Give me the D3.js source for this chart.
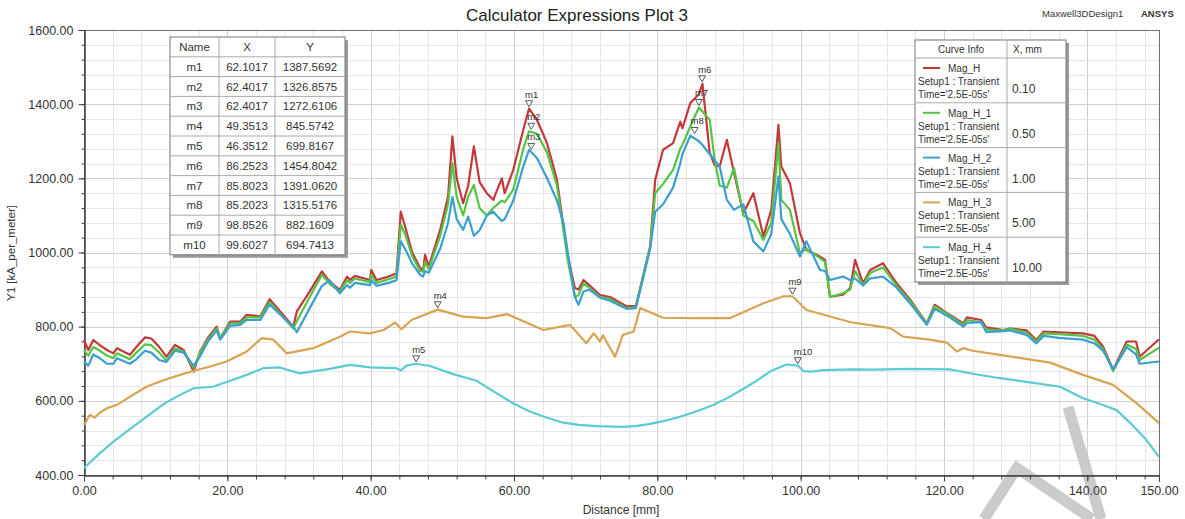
<!DOCTYPE html>
<html><head><meta charset="utf-8">
<script src="https://cdn.jsdelivr.net/npm/d3@7"></script>
<style>
body{margin:0;background:#fff;}
svg{display:block;font-family:"Liberation Sans",Arial,sans-serif;}
</style>
</head><body>
<svg id="chart" width="1185" height="519"></svg>
<script>
// ---------- data ----------
const xRGB = [0,0.6,1.3,2.2,3.2,4.1,4.6,6.4,7.3,8.5,9.4,10.5,11.5,12.7,13.9,15.3,16.2,17.3,18.5,19.0,20.4,21.8,22.7,24.6,25.9,27.5,29.2,29.7,31.5,33.2,34.3,35.7,36.7,37.1,37.8,39.9,40.1,40.8,42.5,43.6,44.2,44.8,45.8,46.9,47.3,47.6,48.1,49.7,50.8,51.4,52.0,52.9,53.6,54.4,55.2,56.2,57.1,58.3,58.7,59.9,61.3,62.1,63.2,64.6,66.0,66.9,67.5,68.5,69.0,69.7,70.5,72.0,73.4,75.7,77.0,78.0,79.0,79.7,80.8,82.2,83.2,83.5,84.6,85.8,86.3,87.3,88.0,88.7,89.7,90.7,92.0,93.4,94.8,95.9,96.9,97.3,98.5,99.9,100.8,102.7,103.4,104.1,105.9,106.9,107.6,108.7,109.7,111.5,113.4,115.3,117.6,118.7,120.8,122.7,123.2,125.2,125.9,128.3,129.2,131.5,132.9,133.9,136.0,139.4,141.0,142.2,143.6,145.5,146.8,147.3,149.9,150];
const magH = [764,737,764,750,737,728,742,724,745,771,768,745,719,751,737,679,733,770,800,769,814,814,832,828,874,838,800,841,895,949,921,899,935,926,937,926,953,926,935,944,1110,1070,1000,958,951,994,962,1061,1151,1313,1200,1133,1180,1286,1190,1160,1142,1200,1160,1223,1331,1388,1358,1295,1196,1070,990,904,900,926,912,885,880,855,856,935,1016,1196,1277,1295,1353,1335,1403,1427,1455,1270,1235,1232,1304,1215,1106,1160,1043,1115,1344,1232,1187,1052,1007,989,980,881,886,904,980,917,953,971,917,872,809,859,832,809,825,818,798,791,795,790,764,787,785,782,775,746,683,760,760,719,764,764];
const magH1 = [737,722,745,735,722,715,728,712,730,752,750,730,708,742,733,688,730,765,795,770,808,810,825,825,866,832,795,815,880,940,915,895,925,918,930,920,940,918,928,935,1075,1050,990,950,948,975,955,1045,1130,1241,1150,1100,1150,1182,1120,1100,1120,1140,1135,1170,1280,1327,1320,1270,1180,1060,980,880,885,917,905,880,875,850,852,935,1016,1160,1185,1223,1280,1290,1340,1391,1380,1358,1250,1180,1175,1228,1100,1085,1034,1080,1295,1142,1115,998,1010,985,975,880,890,900,950,912,945,960,910,868,808,855,830,805,818,812,792,790,795,784,760,782,780,775,765,740,680,752,740,710,742,742];
const magH2 = [706,695,725,715,700,700,715,700,712,735,730,710,705,735,730,695,720,760,790,765,802,805,818,818,860,830,800,785,850,910,925,890,912,905,918,912,925,910,918,925,1030,1010,970,940,935,950,945,1010,1080,1150,1090,1061,1097,1045,1060,1100,1110,1085,1090,1140,1232,1277,1255,1201,1140,1080,1000,880,859,895,900,878,870,848,850,930,1010,1110,1130,1175,1240,1265,1315,1300,1290,1265,1248,1232,1142,1115,1130,1030,1003,1050,1205,1090,1050,989,1030,953,950,926,935,926,930,911,930,935,905,862,805,848,825,800,810,812,785,788,790,778,755,775,770,765,755,735,685,745,725,700,706,706];
const xH3 = [0,0.8,1.5,2.2,3.2,4.6,6.5,8.7,11,13.4,15.3,17.5,19.9,22.7,24.8,26.4,28.3,32,35.7,37.1,39.9,41.8,43.4,44.3,45.7,49.35,52.9,56.2,59,64.1,67.8,70.1,71.1,71.6,72.0,72.4,74.1,75.2,76.7,77.6,80.8,85.5,90.1,94.8,97.6,98.85,100.8,104,107,112.5,114.3,118,120.4,121.8,122.7,124,127.8,134.8,139.4,143.6,146.9,150];
const magH3 = [535,562,555,568,580,589,612,638,655,670,681,692,706,733,769,765,728,742,773,787,782,791,811,793,818,846,827,823,834,791,805,755,782,770,760,777,719,778,787,850,824,823,823,863,882,882,845,828,812,796,773,765,757,733,742,735,724,703,670,643,593,540];
const xH4 = [0,2,4.1,6.5,8.7,11,13,15.3,18,20.5,22.7,25,27.3,30.1,34.3,37.1,39.9,43.6,44.2,45,46.35,48.3,51.5,54.8,57.6,60,62.2,64.5,66.9,69,71.5,75.2,77,79,81,83.2,85.5,87.8,90,92.5,94,95.7,98,99.6,100.4,101.5,103.2,107.2,110,115,120.8,124,127.8,132,136.2,139.4,142,144.1,146,148,150];
const magH4 = [419,455,490,525,557,590,612,634,638,655,670,688,690,674,686,697,690,688,682,695,700,694,672,654,620,592,571,555,541,535,532,530,532,538,546,557,572,589,610,638,656,679,698,695,680,679,683,685,684,686,685,673,661,650,638,607,590,575,540,500,449];

const seriesNames = ["Mag_H","Mag_H_1","Mag_H_2","Mag_H_3","Mag_H_4"];
const seriesXmm = ["0.10","0.50","1.00","5.00","10.00"];
const seriesColors = ["#c4383a","#55c444","#3b9fd2","#d9a352","#5ccad3"];

const markerNames = ["m1","m2","m3","m4","m5","m6","m7","m8","m9","m10"];
const markerX = [62.1017,62.4017,62.4017,49.3513,46.3512,86.2523,85.8023,85.2023,98.8526,99.6027];
const markerY = [1387.5692,1326.8575,1272.6106,845.5742,699.8167,1454.8042,1391.0620,1315.5176,882.1609,694.7413];

const xTicks = [0,20,40,60,80,100,120,140,150];
const yTicks = [400,600,800,1000,1200,1400,1600];

// ---------- drawing ----------
const svg = d3.select("#chart");
const x = d3.scaleLinear().domain([0,150]).range([84,1159]);
const y = d3.scaleLinear().domain([400,1600]).range([475,30]);

// grid
const gGrid = svg.append("g");
const xMinor = d3.range(0,150,4);
const yMinor = d3.range(400,1601,40);
gGrid.selectAll(".vx").data(xMinor).join("line")
  .attr("x1",d=>Math.round(x(d))+0.5).attr("x2",d=>Math.round(x(d))+0.5)
  .attr("y1",30).attr("y2",475)
  .attr("stroke",d=>xTicks.includes(d)?"#cfcfcf":"#e6e6e6").attr("stroke-width",1);
gGrid.selectAll(".hy").data(yMinor).join("line")
  .attr("y1",d=>Math.round(y(d))+0.5).attr("y2",d=>Math.round(y(d))+0.5)
  .attr("x1",84).attr("x2",1159)
  .attr("stroke",d=>yTicks.includes(d)?"#cfcfcf":"#e6e6e6").attr("stroke-width",1);

// faint watermark strokes (bottom right of the reference image), behind the curves
const gW = svg.append("g").attr("stroke","#cbcbcb").attr("stroke-width",11).attr("fill","none").attr("stroke-linecap","butt");
gW.append("path").attr("d","M1068,407L1101,519");
gW.append("path").attr("d","M984,519L1017,468L1092,519");

// frame
svg.append("rect").attr("x",84.5).attr("y",30.5).attr("width",1075).attr("height",445)
  .attr("fill","none").attr("stroke","#707070").attr("stroke-width",1);

// axes
const axL = svg.append("g").attr("transform","translate(84.5,0)")
  .call(d3.axisLeft(y).tickValues(yTicks).tickFormat(d=>d.toFixed(2)).tickSize(6).tickPadding(5));
const axLm = svg.append("g").attr("transform","translate(84.5,0)")
  .call(d3.axisLeft(y).tickValues(yMinor).tickFormat("").tickSize(3));
const axB = svg.append("g").attr("transform","translate(0,475.5)")
  .call(d3.axisBottom(x).tickValues(xTicks).tickFormat(d=>d.toFixed(2)).tickSize(6).tickPadding(5));
const axBm = svg.append("g").attr("transform","translate(0,475.5)")
  .call(d3.axisBottom(x).tickValues(xMinor).tickFormat("").tickSize(4));
[axL,axLm,axB,axBm].forEach(a=>{
  a.select(".domain").attr("stroke","#404040");
  a.selectAll(".tick line").attr("stroke","#404040");
  a.selectAll("text").attr("font-family","Liberation Sans, Arial, sans-serif").attr("font-size",12.5).attr("fill","#333");
});

// lines
const line = d3.line().x(d=>x(d[0])).y(d=>y(d[1]));
const seriesData = [
  d3.zip(xRGB,magH), d3.zip(xRGB,magH1), d3.zip(xRGB,magH2), d3.zip(xH3,magH3), d3.zip(xH4,magH4)
];
const gLines = svg.append("g");
seriesData.forEach((s,i)=>{
  gLines.append("path").datum(s).attr("d",line).attr("fill","none")
    .attr("stroke",seriesColors[i]).attr("stroke-width",2.2).attr("stroke-linejoin","round");
});

// markers
const gM = svg.append("g");
markerNames.forEach((n,i)=>{
  const px = x(markerX[i]), py = y(markerY[i]);
  gM.append("path").attr("d",`M${px-3.5},${py-8}L${px+3.5},${py-8}L${px},${py-2}Z`)
    .attr("fill","#fff").attr("stroke","#444").attr("stroke-width",0.9);
  gM.append("text").attr("x",px-4).attr("y",py-11).text(n)
    .attr("font-size",9.5).attr("fill","#333");
});

// titles
svg.append("text").attr("x",577).attr("y",21).attr("text-anchor","middle")
  .attr("font-size",17).attr("fill","#222").text("Calculator Expressions Plot 3");
svg.append("text").attr("x",1042).attr("y",17).attr("font-size",9.5).attr("fill","#333").text("Maxwell3DDesign1");
svg.append("text").attr("x",1141).attr("y",17).attr("font-size",9.5).attr("font-weight","bold").attr("fill","#333").text("ANSYS");
svg.append("text").attr("transform","translate(15,253) rotate(-90)").attr("text-anchor","middle")
  .attr("font-size",11.5).attr("fill","#333").text("Y1 [kA_per_meter]");
svg.append("text").attr("x",621).attr("y",514).attr("text-anchor","middle")
  .attr("font-size",12).attr("fill","#333").text("Distance [mm]");

// marker table
const tX=170, tY=37, colW=[49,56,70], rowH=19.8;
const tW = d3.sum(colW), tH = rowH*11;
const gT = svg.append("g");
gT.append("rect").attr("x",tX+3).attr("y",tY+3).attr("width",tW).attr("height",tH).attr("fill","#9a9a9a");
gT.append("rect").attr("x",tX).attr("y",tY).attr("width",tW).attr("height",tH).attr("fill","#fff").attr("stroke","#777");
const header = ["Name","X","Y"];
const colX = [tX, tX+colW[0], tX+colW[0]+colW[1], tX+tW];
for(let r=1;r<11;r++) gT.append("line").attr("x1",tX).attr("x2",tX+tW).attr("y1",tY+r*rowH).attr("y2",tY+r*rowH).attr("stroke","#aaa");
for(let c=1;c<3;c++) gT.append("line").attr("x1",colX[c]).attr("x2",colX[c]).attr("y1",tY).attr("y2",tY+tH).attr("stroke","#aaa");
const rows = [header].concat(markerNames.map((n,i)=>[n, markerX[i].toFixed(4), markerY[i].toFixed(4)]));
rows.forEach((row,r)=>{
  row.forEach((v,c)=>{
    gT.append("text").attr("x",(colX[c]+colX[c+1])/2).attr("y",tY+r*rowH+14)
      .attr("text-anchor","middle").attr("font-size",11.5).attr("fill","#333").text(v);
  });
});

// legend
const lX=915, lY=40, lW=151, lC=92, hH=18, eH=44.8;
const gL = svg.append("g");
gL.append("rect").attr("x",lX+3).attr("y",lY+3).attr("width",lW).attr("height",hH+eH*5).attr("fill","#9a9a9a");
gL.append("rect").attr("x",lX).attr("y",lY).attr("width",lW).attr("height",hH+eH*5).attr("fill","#fff").attr("stroke","#777");
gL.append("line").attr("x1",lX+lC).attr("x2",lX+lC).attr("y1",lY).attr("y2",lY+hH+eH*5).attr("stroke","#aaa");
gL.append("line").attr("x1",lX).attr("x2",lX+lW).attr("y1",lY+hH).attr("y2",lY+hH).attr("stroke","#aaa");
gL.append("text").attr("x",lX+lC/2).attr("y",lY+13).attr("text-anchor","middle").attr("font-size",10).attr("fill","#333").text("Curve Info");
gL.append("text").attr("x",lX+lC+6).attr("y",lY+13).attr("font-size",10).attr("fill","#333").text("X, mm");
seriesNames.forEach((n,i)=>{
  const top = lY+hH+i*eH;
  if(i>0) gL.append("line").attr("x1",lX).attr("x2",lX+lW).attr("y1",top).attr("y2",top).attr("stroke","#aaa");
  gL.append("line").attr("x1",lX+8).attr("x2",lX+25).attr("y1",top+10).attr("y2",top+10).attr("stroke",seriesColors[i]).attr("stroke-width",2);
  gL.append("text").attr("x",lX+33).attr("y",top+14).attr("font-size",10).attr("fill","#333").text(n);
  gL.append("text").attr("x",lX+3).attr("y",top+27).attr("font-size",10).attr("fill","#333").text("Setup1 : Transient");
  gL.append("text").attr("x",lX+3).attr("y",top+40).attr("font-size",10).attr("fill","#333").text("Time='2.5E-05s'");
  gL.append("text").attr("x",lX+lC+5).attr("y",top+35).attr("font-size",12).attr("fill","#333").text(seriesXmm[i]);
});
</script>
</body></html>
